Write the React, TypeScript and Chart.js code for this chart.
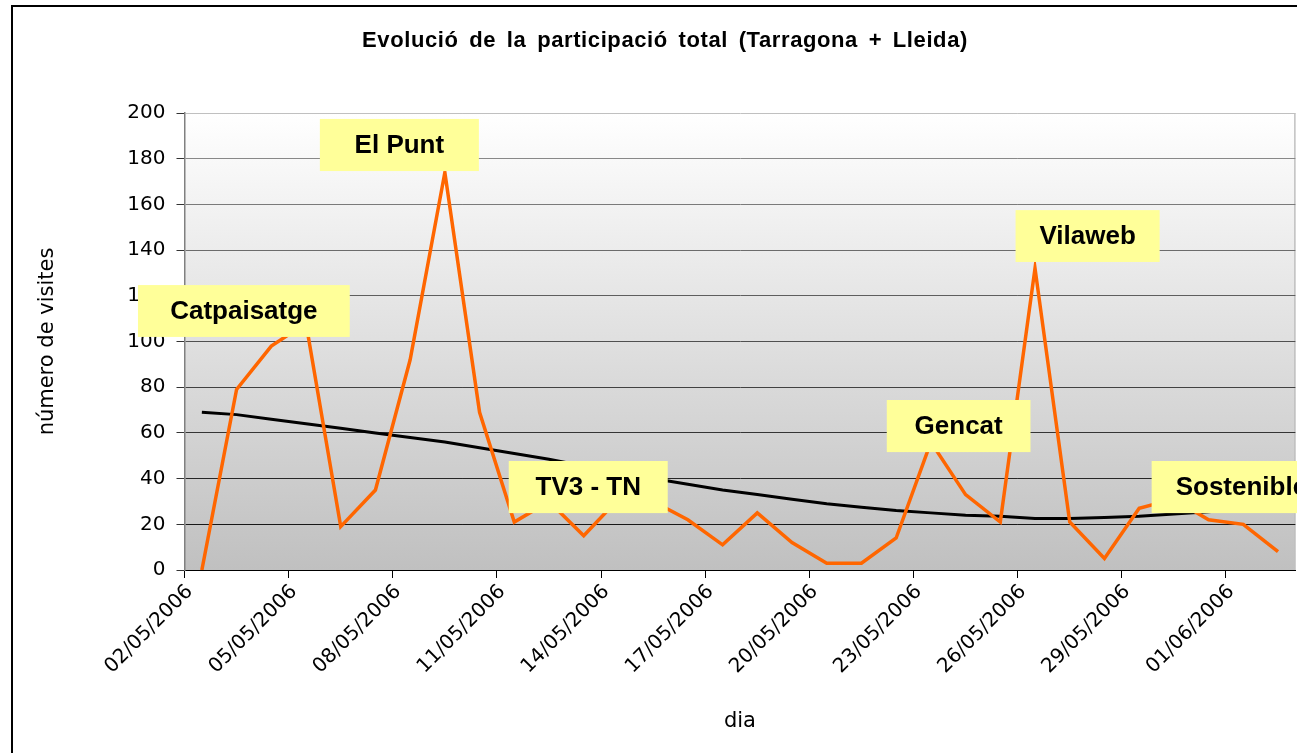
import React, { useEffect, useRef } from 'react';
import { Chart, registerables } from 'chart.js';

Chart.register(...registerables);

// ---- data ----
const categories = [
  '02/05/2006', '03/05/2006', '04/05/2006', '05/05/2006', '06/05/2006', '07/05/2006',
  '08/05/2006', '09/05/2006', '10/05/2006', '11/05/2006', '12/05/2006', '13/05/2006',
  '14/05/2006', '15/05/2006', '16/05/2006', '17/05/2006', '18/05/2006', '19/05/2006',
  '20/05/2006', '21/05/2006', '22/05/2006', '23/05/2006', '24/05/2006', '25/05/2006',
  '26/05/2006', '27/05/2006', '28/05/2006', '29/05/2006', '30/05/2006', '31/05/2006',
  '01/06/2006', '02/06/2006',
];

const visites = [
  0, 79, 98, 108, 19, 35, 92, 174, 69, 21, 30, 15, 31, 30, 22, 11,
  25, 12, 3, 3, 14, 56, 33, 21, 132, 21, 5, 27, 31, 22, 20, 8,
];

const tendencia = [
  69, 68, 66, 64, 62, 60, 58, 56, 53.5, 51, 48.5, 45.5, 42.5, 40, 37.5, 35,
  33, 31, 29, 27.5, 26, 25, 24, 23.5, 22.5, 22.5, 23, 23.5, 24.5, 25.5, 27, 28.5,
];

const yMin = 0;
const yMax = 200;
const yStep = 20;
const labelEvery = 3;

const titleText = 'Evolució de la participació total (Tarragona + Lleida)';
const xTitleText = 'dia';
const yTitleText = 'número de visites';

// callout boxes (in data units: category index / value)
const calloutTexts = ['Catpaisatge', 'El Punt', 'TV3 - TN', 'Gencat', 'Vilaweb', 'Sostenible'];
const calloutFrom = [-1.84, 3.4, 8.84, 19.73, 23.44, 27.36];
const calloutTo = [4.26, 7.98, 13.42, 23.87, 27.59, 32.53];
const calloutTop = [124.7, 197.4, 47.7, 74.4, 157.5, 47.7];
const calloutBottom = [102, 174.6, 24.9, 51.6, 134.8, 24.9];

const tickFont = { family: '"DejaVu Sans", Verdana, sans-serif', size: 20 };
const axisTitleFont = { family: '"DejaVu Sans", Verdana, sans-serif', size: 21 };

const plotBackground = {
  id: 'plotBackground',
  beforeDraw(chart: any) {
    const { ctx, chartArea: a } = chart;
    ctx.save();
    ctx.fillStyle = '#ffffff';
    ctx.fillRect(0, 0, chart.width, chart.height);
    const g = ctx.createLinearGradient(0, a.top, 0, a.bottom);
    g.addColorStop(0, '#ffffff');
    g.addColorStop(1, '#c0c0c0');
    ctx.fillStyle = g;
    ctx.fillRect(a.left, a.top, a.right - a.left, a.bottom - a.top);
    ctx.strokeStyle = '#c0c0c0';
    ctx.lineWidth = 1.5;
    ctx.beginPath();
    ctx.moveTo(a.right - 0.5, a.top);
    ctx.lineTo(a.right - 0.5, a.bottom);
    ctx.stroke();
    ctx.restore();
  },
};

const overlay = {
  id: 'overlay',
  afterDraw(chart: any) {
    const { ctx } = chart;
    const xs = chart.scales.x;
    const ys = chart.scales.y;
    ctx.save();
    // outer frame
    ctx.strokeStyle = '#000';
    ctx.lineWidth = 2;
    ctx.beginPath();
    ctx.moveTo(12, chart.height + 5);
    ctx.lineTo(12, 6);
    ctx.lineTo(chart.width + 5, 6);
    ctx.stroke();

    // title
    ctx.fillStyle = '#000';
    ctx.font = 'bold 22px "Liberation Sans", Arial, sans-serif';
    ctx.textAlign = 'center';
    ctx.textBaseline = 'alphabetic';
    const c: any = ctx;
    if ('letterSpacing' in c) c.letterSpacing = '0.6px';
    if ('wordSpacing' in c) c.wordSpacing = '4px';
    ctx.fillText(titleText, 665, 47);
    if ('letterSpacing' in c) c.letterSpacing = '0px';
    if ('wordSpacing' in c) c.wordSpacing = '0px';

    // callouts
    ctx.font = 'bold 26px "Liberation Sans", Arial, sans-serif';
    ctx.textBaseline = 'middle';
    for (let i = 0; i < calloutTexts.length; i++) {
      const x0 = xs.getPixelForValue(calloutFrom[i]);
      const x1 = xs.getPixelForValue(calloutTo[i]);
      const y0 = ys.getPixelForValue(calloutTop[i]);
      const y1 = ys.getPixelForValue(calloutBottom[i]);
      ctx.fillStyle = '#FFFF99';
      ctx.fillRect(x0, y0, x1 - x0, y1 - y0);
      ctx.fillStyle = '#000';
      ctx.fillText(calloutTexts[i], (x0 + x1) / 2, (y0 + y1) / 2 + 1);
    }
    ctx.restore();
  },
};

function gridShade(v: number): string {
  if (v >= yMax) return '#c0c0c0';
  if (v <= yMin) return '#000000';
  const c = Math.round(136 - ((180 - v) / 160) * 112);
  const h = Math.max(0, Math.min(255, c)).toString(16).padStart(2, '0');
  return '#' + h + h + h;
}

export default function App() {
  const ref = useRef<HTMLCanvasElement | null>(null);

  useEffect(() => {
    if (!ref.current) return;
    const chart = new Chart(ref.current, {
      type: 'line',
      data: {
        labels: categories,
        datasets: [
          {
            label: 'visites',
            data: visites,
            borderColor: '#FF6600',
            backgroundColor: '#FF6600',
            borderWidth: 3.5,
            pointRadius: 0,
            tension: 0,
            order: 0,
          },
          {
            label: 'tendència',
            data: tendencia,
            borderColor: '#000000',
            backgroundColor: '#000000',
            borderWidth: 3,
            pointRadius: 0,
            tension: 0,
            order: 1,
          },
        ],
      },
      options: {
        responsive: false,
        animation: false,
        layout: { padding: { left: 12, top: 113, right: 1, bottom: 0 } },
        plugins: {
          legend: { display: false },
          tooltip: { enabled: false },
          title: { display: false },
        },
        scales: {
          x: {
            type: 'category',
            offset: true,
            grid: {
              offset: true,
              drawOnChartArea: false,
              tickLength: 8,
              color: '#000',
              tickColor: (c: any) => (c.index % labelEvery === 0 ? '#000' : 'rgba(0,0,0,0)'),
            },
            border: { color: '#000', width: 1 },
            ticks: {
              autoSkip: false,
              maxRotation: 45,
              minRotation: 45,
              labelOffset: -12,
              padding: 2,
              color: '#000',
              font: tickFont,
              callback: (_v: any, i: number) => (i % labelEvery === 0 ? categories[i] : ''),
            },
            title: {
              display: true,
              text: xTitleText,
              color: '#000',
              font: axisTitleFont,
              padding: { top: 0, bottom: 19 },
            },
            afterFit: (s: any) => {
              s.height = 183;
            },
          },
          y: {
            min: yMin,
            max: yMax,
            ticks: {
              stepSize: yStep,
              color: '#000',
              font: tickFont,
              padding: 11,
            },
            grid: {
              color: (c: any) => gridShade(c.tick ? c.tick.value : 0),
              lineWidth: 1,
              tickLength: 8,
              tickColor: '#333',
            },
            border: { color: '#808080', width: 1.5 },
            title: {
              display: true,
              text: yTitleText,
              color: '#000',
              font: axisTitleFont,
              padding: { top: 23, bottom: 0 },
            },
            afterFit: (s: any) => {
              s.width = 172.5;
            },
          },
        },
      },
      plugins: [plotBackground, overlay],
    } as any);
    return () => chart.destroy();
  }, []);

  return (
    <canvas
      ref={ref}
      width={1297}
      height={753}
      style={{ position: 'absolute', left: 0, top: 0, width: 1297, height: 753 }}
    />
  );
}
